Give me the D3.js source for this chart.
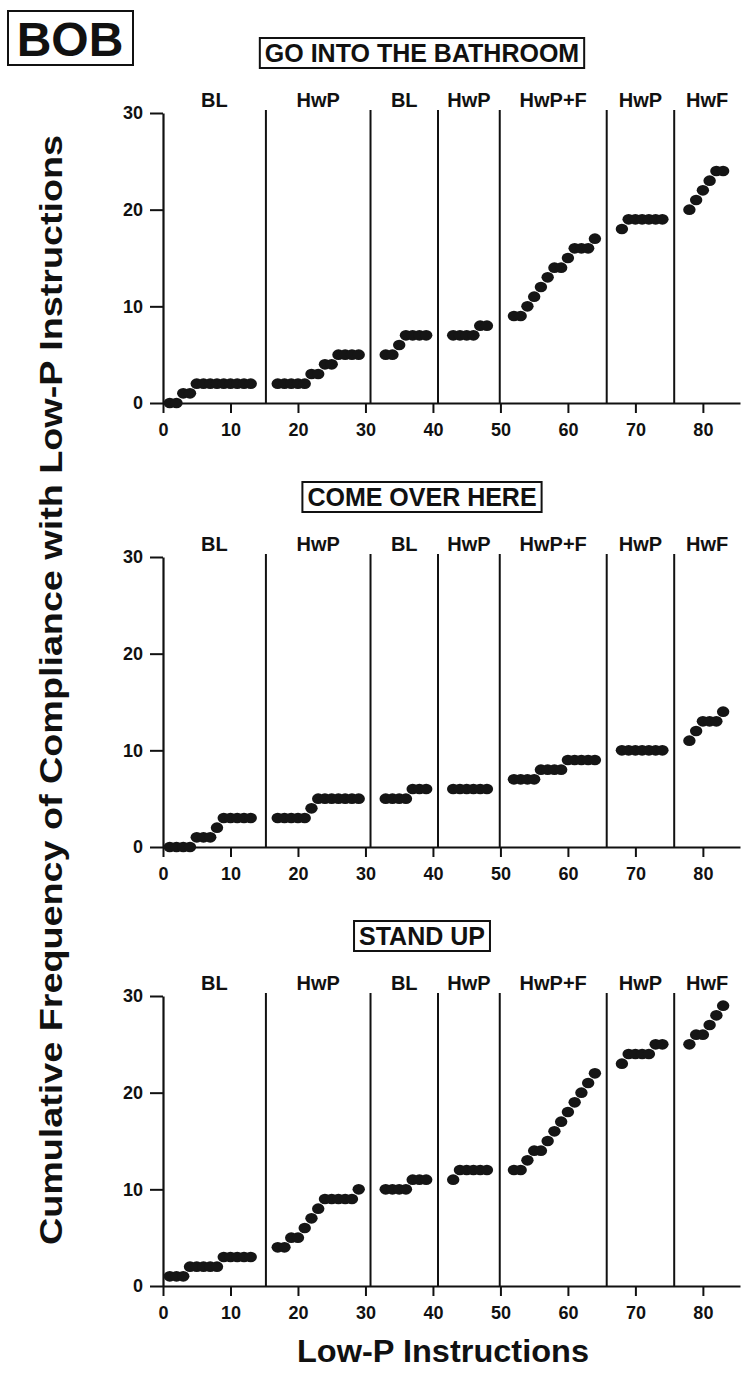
<!DOCTYPE html>
<html><head><meta charset="utf-8">
<script src="https://cdn.jsdelivr.net/npm/d3@7/dist/d3.min.js"></script>
<style>
body{margin:0;background:#fff}
text{font-family:"Liberation Sans",Arial,Helvetica,sans-serif;font-weight:bold;fill:#111}
</style>
</head><body>
<svg id="chart" width="745" height="1380"></svg>
<script>
// ---- data ----
const participant = "BOB";
const panelTitles = ["GO INTO THE BATHROOM", "COME OVER HERE", "STAND UP"];
const phaseLabels = ["BL", "HwP", "BL", "HwP", "HwP+F", "HwP", "HwF"];
const phaseLines = [15.25, 30.75, 40.75, 49.9, 65.75, 75.75];
const xTicks = [0, 10, 20, 30, 40, 50, 60, 70, 80];
const yTicks = [0, 10, 20, 30];
const sessions = [1,2,3,4,5,6,7,8,9,10,11,12,13,
  17,18,19,20,21,22,23,24,25,26,27,28,29,
  33,34,35,36,37,38,39,
  43,44,45,46,47,48,
  52,53,54,55,56,57,58,59,60,61,62,63,64,
  68,69,70,71,72,73,74,
  78,79,80,81,82,83];
const bathroom = [0,0,1,1,2,2,2,2,2,2,2,2,2,
  2,2,2,2,2,3,3,4,4,5,5,5,5,
  5,5,6,7,7,7,7,
  7,7,7,7,8,8,
  9,9,10,11,12,13,14,14,15,16,16,16,17,
  18,19,19,19,19,19,19,
  20,21,22,23,24,24];
const comeOver = [0,0,0,0,1,1,1,2,3,3,3,3,3,
  3,3,3,3,3,4,5,5,5,5,5,5,5,
  5,5,5,5,6,6,6,
  6,6,6,6,6,6,
  7,7,7,7,8,8,8,8,9,9,9,9,9,
  10,10,10,10,10,10,10,
  11,12,13,13,13,14];
const standUp = [1,1,1,2,2,2,2,2,3,3,3,3,3,
  4,4,5,5,6,7,8,9,9,9,9,9,10,
  10,10,10,10,11,11,11,
  11,12,12,12,12,12,
  12,12,13,14,14,15,16,17,18,19,20,21,22,
  23,24,24,24,24,25,25,
  25,26,26,27,28,29];
const yTitle = "Cumulative Frequency of Compliance with Low-P Instructions";
const xTitle = "Low-P Instructions";

// ---- layout ----
const series = [bathroom, comeOver, standUp];
const W = 745, H = 1380;
const panelBottoms = [403, 847, 1286];
const panelH = 290;
const svg = d3.select("#chart");
svg.append("rect").attr("width", W).attr("height", H).attr("fill", "#fff");

const x = d3.scaleLinear().domain([0, 85.5]).range([163, 740]);
const bounds = [0, ...phaseLines, 85.5];

// participant box
svg.append("text").attr("x", 70).attr("y", 56)
  .attr("text-anchor", "middle").style("font-size", "48px").text(participant);
svg.append("rect").attr("x", 8).attr("y", 11).attr("width", 125).attr("height", 54)
  .attr("fill", "none").attr("stroke", "#111").attr("stroke-width", 2);

series.forEach((vals, p) => {
  const bottom = panelBottoms[p], top = bottom - panelH;
  const y = d3.scaleLinear().domain([0, 30]).range([bottom, top]);
  const g = svg.append("g");

  // title box
  const t = g.append("text").attr("x", 422).attr("y", top - 51)
    .attr("text-anchor", "middle").style("font-size", "25px").text(panelTitles[p]);
  const tb = t.node().getBBox();
  g.append("rect").attr("x", tb.x - 5).attr("y", top - 75)
    .attr("width", tb.width + 10).attr("height", 30)
    .attr("fill", "none").attr("stroke", "#111").attr("stroke-width", 2);

  // axes
  const xAxis = d3.axisBottom(x).tickValues(xTicks).tickSize(10).tickSizeOuter(0).tickPadding(6);
  const yAxis = d3.axisLeft(y).tickValues(yTicks).tickSize(13).tickSizeOuter(0).tickPadding(7);
  const gx = g.append("g").attr("transform", `translate(0,${bottom})`).call(xAxis);
  const gy = g.append("g").attr("transform", `translate(${x(0)},0)`).call(yAxis);
  [gx, gy].forEach(a => {
    a.select(".domain").attr("stroke", "#111").attr("stroke-width", 2.2);
    a.selectAll(".tick line").attr("stroke", "#111").attr("stroke-width", 2);
    a.selectAll(".tick text").style("font-size", "18px").attr("fill", "#111");
  });
  gx.selectAll(".tick text").attr("dy", "0.95em");

  // phase lines
  g.selectAll(".phase").data(phaseLines).join("line")
    .attr("x1", d => x(d)).attr("x2", d => x(d))
    .attr("y1", bottom).attr("y2", top - 3)
    .attr("stroke", "#111").attr("stroke-width", 2);

  // phase labels
  g.selectAll(".plabel").data(phaseLabels).join("text")
    .attr("x", (d, i) => x((bounds[i] + bounds[i + 1]) / 2))
    .attr("y", top - 6)
    .attr("text-anchor", "middle").style("font-size", "20px").text(d => d);

  // points
  g.selectAll(".pt").data(vals).join("ellipse")
    .attr("cx", (d, i) => x(sessions[i])).attr("cy", d => y(d))
    .attr("rx", 6.2).attr("ry", 5.3).attr("fill", "#151515");
});

// axis titles
svg.append("text").attr("transform", "translate(62,690) rotate(-90)")
  .attr("text-anchor", "middle").style("font-size", "31px")
  .attr("textLength", 1110).attr("lengthAdjust", "spacingAndGlyphs").text(yTitle);
svg.append("text").attr("x", 443).attr("y", 1362)
  .attr("text-anchor", "middle").style("font-size", "32px")
  .attr("textLength", 292).attr("lengthAdjust", "spacingAndGlyphs").text(xTitle);
</script>
</body></html>
